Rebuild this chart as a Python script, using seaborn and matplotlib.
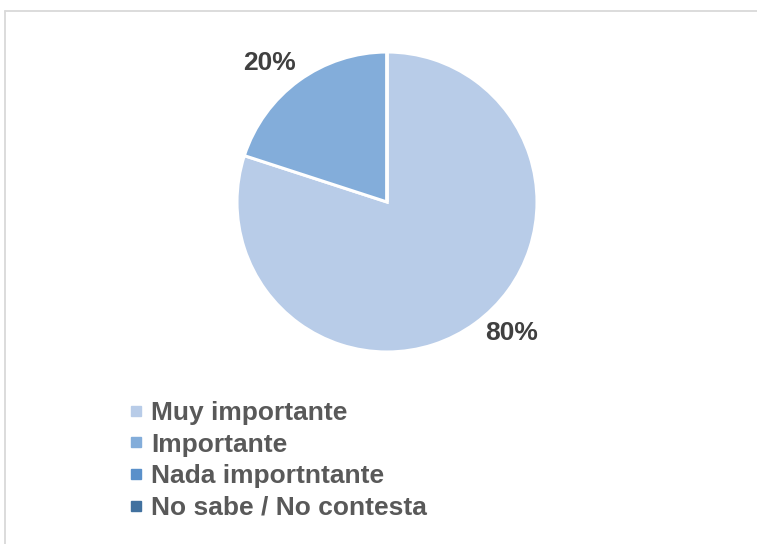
import matplotlib
matplotlib.use("Agg")
import matplotlib.pyplot as plt
from matplotlib.lines import Line2D
import numpy as np
import seaborn as sns

# Survey answers and their shares (percent)
categories = ["Muy importante", "Importante", "Nada importntante", "No sabe / No contesta"]
shares = [80, 20, 0, 0]
colors = ["#B8CCE8", "#83ADDA", "#5A90CA", "#41719F"]

sns.set_theme(style="white")
plt.rcParams["font.family"] = ["Liberation Sans", "DejaVu Sans"]

fig = plt.figure(figsize=(7.57, 5.44), dpi=100)
fig.patch.set_facecolor("white")

# Light frame along the top and left edges
frame_color = "#D9D9D9"
fig.add_artist(Line2D([5 / 757, 5 / 757], [0, 1 - 10.5 / 544], color=frame_color,
                      lw=1.3, transform=fig.transFigure))
fig.add_artist(Line2D([5 / 757, 1], [1 - 10.5 / 544, 1 - 10.5 / 544], color=frame_color,
                      lw=1.3, transform=fig.transFigure))

# Pie area
ax = fig.add_axes([237 / 757, 192 / 544, 300 / 757, 300 / 544])
wedges, _ = ax.pie(shares, colors=colors, startangle=90, counterclock=False,
                   wedgeprops=dict(edgecolor="white", linewidth=2.2))
ax.set_xlim(-1, 1)
ax.set_ylim(-1, 1)
ax.set_aspect("equal")
ax.axis("off")

# Percentage labels just outside each non-empty wedge
total = sum(shares)
start = 90.0
for val in shares:
    sweep = 360.0 * val / total
    if val > 0:
        mid = np.deg2rad(start - sweep / 2)
        x, y = 1.077 * np.cos(mid), 1.11 * np.sin(mid)
        ha = "left" if x > 0 else "right"
        ax.annotate(f"{val}%", xy=(x, y), xytext=(2.5, 3), textcoords="offset points",
                    ha=ha, va="center", fontsize=19, fontweight="bold",
                    color="#404040", annotation_clip=False)
    start -= sweep

# Legend with small square keys
handles = [Line2D([0], [0], marker="s", linestyle="none", markersize=7.2,
                  markerfacecolor=c, markeredgecolor=c) for c in colors]
leg = fig.legend(handles, categories, loc="upper left",
                 bbox_to_anchor=(129 / 757, 1 - 401 / 544), frameon=False,
                 handlelength=0.55, handletextpad=0.3, labelspacing=0.29,
                 borderpad=0, borderaxespad=0,
                 prop=dict(size=19, weight="bold"))
for t in leg.get_texts():
    t.set_color("#595959")

fig.savefig("out.png", dpi=100, facecolor="white")
